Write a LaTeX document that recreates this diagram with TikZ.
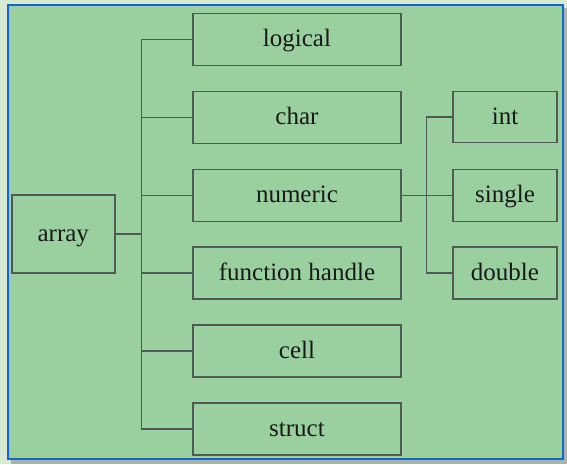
\documentclass[tikz,border=0pt]{standalone}
\usepackage{fontspec}
\setmainfont{Liberation Serif}
\definecolor{outerbg}{RGB}{214,234,214}
\definecolor{panel}{RGB}{154,208,160}
\definecolor{frameblue}{RGB}{20,100,210}
\definecolor{shadowgray}{RGB}{170,180,170}
\definecolor{linegray}{RGB}{80,90,82}
\definecolor{txt}{RGB}{25,25,25}
\begin{document}
\begin{tikzpicture}[x=1pt,y=-1pt,
  box/.style={draw=linegray, line width=1.4pt, fill=panel, rectangle, inner sep=0pt,
    minimum width=208pt, minimum height=52pt, text=txt,
    text height=14pt, text depth=0pt,
    font=\fontsize{25}{30}\selectfont},
  subbox/.style={box, minimum width=104pt},
  conn/.style={draw=linegray, line width=1.4pt}]
\useasboundingbox (0,0) rectangle (567,464);
\fill[outerbg] (0,0) rectangle (567,464);
\fill[shadowgray] (11,8) rectangle (566.5,463.5);
\filldraw[fill=panel, draw=frameblue, line width=2pt] (8,5) rectangle (563,459);
% main boxes
\node[box, minimum width=103pt, minimum height=78pt] (array) at (63.3,234) {array};
\node[box] (logical) at (297,39.5) {logical};
\node[box] (char) at (297,117.5) {char};
\node[box] (numeric) at (297,195.5) {numeric};
\node[box] (fh) at (297,273) {function handle};
\node[box] (cell) at (297,351) {cell};
\node[box] (struct) at (297,429) {struct};
% sub boxes
\node[subbox, minimum height=51pt] (int) at (505,117) {int};
\node[subbox] (single) at (505,195.5) {single};
\node[subbox] (double) at (505,273) {double};
% connectors
\draw[conn] (array.east) -- ++(26,0) coordinate (tm);
\draw[conn] (logical.west) -- (logical.west -| tm) -- (struct.west -| tm) -- (struct.west);
\draw[conn] (char.west) -- (char.west -| tm);
\draw[conn] (numeric.west) -- (numeric.west -| tm);
\draw[conn] (fh.west) -- (fh.west -| tm);
\draw[conn] (cell.west) -- (cell.west -| tm);
\draw[conn] (numeric.east) -- (single.west);
\draw[conn] (int.west) -- ++(-26,0) coordinate (sm) |- (double.west);
\end{tikzpicture}
\end{document}
